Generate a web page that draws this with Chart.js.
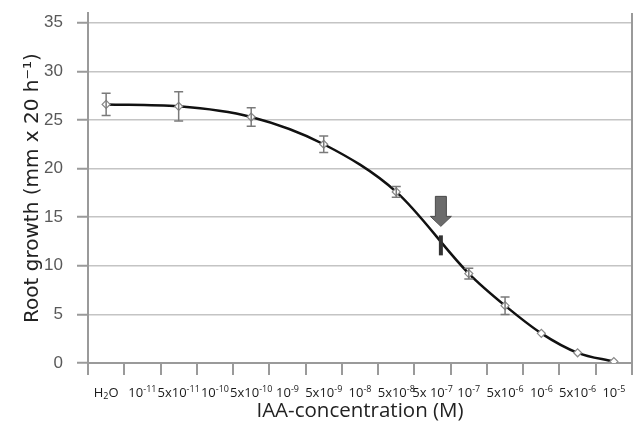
<!DOCTYPE html>
<html>
<head>
<meta charset="utf-8">
<script src="https://cdn.jsdelivr.net/npm/chart.js@4"></script>
<style>
  body { margin: 0; background: #fff; }
  #wrap { width: 641px; height: 434px; }
</style>
</head>
<body>
<div id="wrap"><canvas id="rootChart" width="641" height="434"></canvas></div>
<script>
// IAA concentrations (M)
const concLabels = ['H₂O', '10⁻¹¹', '5x10⁻¹¹', '10⁻¹⁰', '5x10⁻¹⁰', '10⁻⁹', '5x10⁻⁹', '10⁻⁸',
    '5x10⁻⁸', '5x 10⁻⁷', '10⁻⁷', '5x10⁻⁶', '10⁻⁶', '5x10⁻⁶', '10⁻⁵'];
// root growth, mm x 20 h-1
const growth = [26.6, null, 26.4, null, 25.3, null, 22.5, null, 17.6, null, 9.2, 5.9, 3.05, 1.05, 0.15];
const growthErr = [1.15, null, 1.5, null, 0.95, null, 0.85, null, 0.55, null, 0.55, 0.9, null, null, null];
const yTicks = [0, 5, 10, 15, 20, 25, 30, 35];
// half-maximal point marked by the arrow (category index, value)
const markIndex = 9.23;
const markValue = 12.1;

const SUP = '⁰¹²³⁴⁵⁶⁷⁸⁹⁻';
const SUB = '₀₁₂₃₄₅₆₇₈₉';
const PLAIN = '0123456789-';

// split "10⁻¹¹" into runs of normal / raised / lowered text
function labelRuns(str) {
    const runs = [];
    for (const ch of str) {
        let kind = 'n', c = ch;
        if (SUP.includes(ch)) { kind = 'sup'; c = PLAIN[SUP.indexOf(ch)]; }
        else if (SUB.includes(ch)) { kind = 'sub'; c = PLAIN[SUB.indexOf(ch)]; }
        const last = runs[runs.length - 1];
        if (last && last.kind === kind) last.text += c;
        else runs.push({ kind, text: c });
    }
    return runs;
}

const concAxisLabels = {
    id: 'concAxisLabels',
    afterDraw(chart) {
        const ctx = chart.ctx, xs = chart.scales.x;
        const y = xs.top + 30;
        const big = '13px "Open Sans"', small = '9px "Open Sans"';
        ctx.save();
        ctx.fillStyle = '#1a1a1a';
        ctx.textBaseline = 'middle';
        ctx.textAlign = 'left';
        concLabels.forEach((lab, i) => {
            const runs = labelRuns(lab);
            let w = 0;
            runs.forEach(r => { ctx.font = r.kind === 'n' ? big : small; r.w = ctx.measureText(r.text).width; w += r.w; });
            let x = xs.getPixelForValue(i) - w / 2;
            runs.forEach(r => {
                ctx.font = r.kind === 'n' ? big : small;
                const dy = r.kind === 'sup' ? -4 : r.kind === 'sub' ? 3 : 0;
                ctx.fillText(r.text, x, y + dy);
                x += r.w;
            });
        });
        ctx.restore();
    }
};

const errorBars = {
    id: 'errorBars',
    afterDatasetsDraw(chart) {
        const ctx = chart.ctx;
        const xs = chart.scales.x, ys = chart.scales.y;
        ctx.save();
        ctx.strokeStyle = '#7a7a7a';
        ctx.lineWidth = 1.5;
        growth.forEach((v, i) => {
            if (v === null || growthErr[i] === null) return;
            const x = xs.getPixelForValue(i);
            const top = ys.getPixelForValue(v + growthErr[i]);
            const bot = ys.getPixelForValue(v - growthErr[i]);
            ctx.beginPath();
            ctx.moveTo(x, top); ctx.lineTo(x, bot);
            ctx.moveTo(x - 4.5, top); ctx.lineTo(x + 4.5, top);
            ctx.moveTo(x - 4.5, bot); ctx.lineTo(x + 4.5, bot);
            ctx.stroke();
        });

        // marker + arrow
        const mx = xs.getPixelForValue(markIndex);
        const my = ys.getPixelForValue(markValue);
        ctx.strokeStyle = '#333';
        ctx.lineWidth = 4;
        ctx.beginPath();
        ctx.moveTo(mx, my - 10); ctx.lineTo(mx, my + 10);
        ctx.stroke();

        const tip = my - 19;
        ctx.fillStyle = '#6b6b6b';
        ctx.strokeStyle = '#4a4a4a';
        ctx.lineWidth = 1;
        ctx.beginPath();
        ctx.moveTo(mx - 5.5, tip - 30);
        ctx.lineTo(mx + 5.5, tip - 30);
        ctx.lineTo(mx + 5.5, tip - 10);
        ctx.lineTo(mx + 10.5, tip - 10);
        ctx.lineTo(mx, tip);
        ctx.lineTo(mx - 10.5, tip - 10);
        ctx.lineTo(mx - 5.5, tip - 10);
        ctx.closePath();
        ctx.fill();
        ctx.stroke();
        ctx.restore();
    },
    beforeDatasetsDraw(chart) {
        // right frame line
        const a = chart.chartArea, ctx = chart.ctx;
        ctx.save();
        ctx.strokeStyle = '#9a9a9a';
        ctx.lineWidth = 2;
        ctx.beginPath();
        ctx.moveTo(a.right, a.top);
        ctx.lineTo(a.right, a.bottom);
        ctx.stroke();
        ctx.restore();
    }
};

new Chart(document.getElementById('rootChart'), {
    type: 'line',
    data: {
        labels: concLabels,
        datasets: [{
            data: growth,
            borderColor: '#111',
            borderWidth: 2.5,
            spanGaps: true,
            cubicInterpolationMode: 'monotone',
            pointStyle: 'rectRot',
            pointRadius: 4,
            pointBackgroundColor: '#fff',
            pointBorderColor: '#888',
            pointBorderWidth: 1.2
        }]
    },
    options: {
        responsive: false,
        animation: false,
        layout: { padding: { top: 13, right: 9, left: 0, bottom: 0 } },
        plugins: { legend: { display: false }, tooltip: { enabled: false } },
        scales: {
            x: {
                offset: true,
                grid: { offset: true, drawOnChartArea: false, tickLength: 12, color: '#9a9a9a', lineWidth: 2 },
                border: { color: '#9a9a9a', width: 2 },
                ticks: { display: false, autoSkip: false },
                title: {
                    display: true, text: 'IAA-concentration (M)', color: '#222',
                    font: { family: 'Open Sans', size: 20.5 }, padding: { top: 0, bottom: 11 }
                },
                afterFit(s) { s.height = 71; s.paddingLeft = 0; s.paddingRight = 0; }
            },
            y: {
                min: 0,
                max: 36,
                afterBuildTicks(s) { s.ticks = yTicks.map(v => ({ value: v })); },
                grid: { color: '#c4c4c4', lineWidth: 1.5, tickLength: 11, tickColor: '#9a9a9a', tickWidth: 2 },
                border: { color: '#9a9a9a', width: 2 },
                ticks: {
                    padding: 14, color: '#595959',
                    font: { family: 'Liberation Sans', size: 17 }
                },
                title: {
                    display: true, text: 'Root growth (mm x 20 h⁻¹)', color: '#222',
                    font: { family: 'DejaVu Sans', size: 20 }, padding: { top: 21, bottom: 0 }
                },
                afterFit(s) { s.width = 88; s.paddingTop = 0; s.paddingBottom = 0; }
            }
        }
    },
    plugins: [errorBars, concAxisLabels]
});
</script>
</body>
</html>
